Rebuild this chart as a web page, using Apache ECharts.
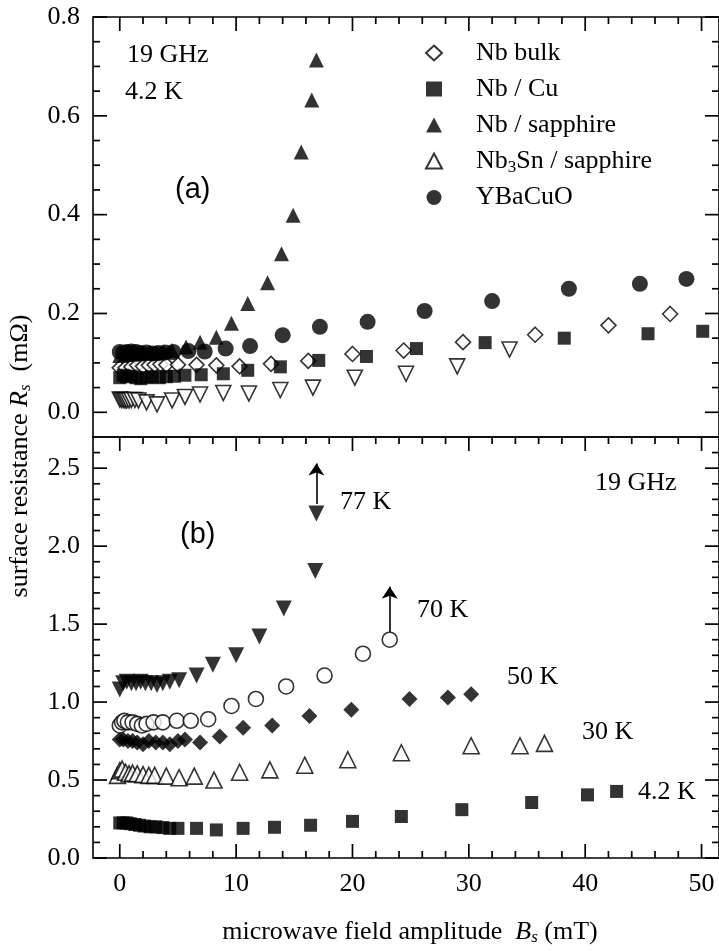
<!DOCTYPE html>
<html>
<head>
<meta charset="utf-8">
<script src="https://cdn.jsdelivr.net/npm/echarts@6/dist/echarts.min.js"></script>
<style>
  html, body { margin: 0; padding: 0; background: #fff; }
  #chart { width: 719px; height: 951px; }
</style>
</head>
<body>
<div id="chart"></div>
<script>
// ---- panel (a): 19 GHz, 4.2 K ----
var nbBulkB = [0, 0.5, 1.0, 1.5, 2.0, 2.5, 3.0, 3.5, 4.0, 5.0, 6.6, 8.3, 10.3, 13.0, 16.2, 20.0, 24.4, 29.5, 35.7, 42.0, 47.3];
var nbBulkR = [0.09, 0.09, 0.092, 0.095, 0.093, 0.095, 0.096, 0.097, 0.096, 0.096, 0.096, 0.095, 0.093, 0.098, 0.104, 0.118, 0.125, 0.142, 0.157, 0.176, 0.199];
var nbCuB = [0, 0.3, 0.6, 1.0, 1.4, 1.8, 2.3, 2.8, 3.4, 4.0, 4.7, 5.6, 7.0, 8.9, 11.0, 13.8, 17.1, 21.2, 25.5, 31.4, 38.2, 45.4, 50.1];
var nbCuR = [0.07, 0.075, 0.072, 0.073, 0.07, 0.068, 0.07, 0.072, 0.07, 0.072, 0.073, 0.075, 0.076, 0.078, 0.085, 0.092, 0.105, 0.113, 0.129, 0.141, 0.15, 0.159, 0.164];
var nbSapB = [0, 0.5, 1.0, 1.5, 2.0, 2.6, 3.2, 3.8, 4.5, 5.7, 6.9, 8.3, 9.6, 11.0, 12.7, 13.9, 14.9, 15.6, 16.5, 16.9];
var nbSapR = [0.115, 0.117, 0.118, 0.118, 0.12, 0.12, 0.12, 0.122, 0.125, 0.132, 0.142, 0.152, 0.18, 0.22, 0.262, 0.321, 0.399, 0.527, 0.632, 0.713];
var nb3SnB = [0, 0.15, 0.3, 0.45, 0.6, 0.8, 1.0, 1.3, 1.6, 2.3, 3.2, 4.5, 5.6, 6.9, 8.9, 11.1, 13.8, 16.6, 20.2, 24.6, 29.0, 33.5];
var nb3SnR = [0.026, 0.025, 0.025, 0.024, 0.024, 0.024, 0.025, 0.025, 0.024, 0.02, 0.016, 0.024, 0.031, 0.036, 0.039, 0.038, 0.045, 0.05, 0.07, 0.078, 0.093, 0.127];
var ybcoB = [0, 0.3, 0.6, 1.0, 1.4, 1.8, 2.3, 2.8, 3.3, 3.9, 4.6, 5.9, 7.3, 9.1, 11.2, 14.0, 17.2, 21.3, 26.2, 32.0, 38.6, 44.7, 48.7];
var ybcoR = [0.122, 0.12, 0.122, 0.123, 0.122, 0.12, 0.121, 0.119, 0.12, 0.121, 0.122, 0.124, 0.123, 0.129, 0.134, 0.156, 0.173, 0.183, 0.205, 0.225, 0.25, 0.26, 0.27];

// ---- panel (b): 19 GHz, several temperatures ----
var k4B = [0, 0.3, 0.6, 0.9, 1.3, 1.7, 2.1, 2.6, 3.1, 3.7, 4.3, 5.0, 6.6, 8.3, 10.6, 13.3, 16.4, 20.0, 24.2, 29.4, 35.4, 40.2, 42.7];
var k4R = [0.225, 0.225, 0.225, 0.22, 0.215, 0.21, 0.205, 0.2, 0.2, 0.195, 0.19, 0.19, 0.19, 0.18, 0.19, 0.197, 0.21, 0.235, 0.266, 0.31, 0.356, 0.405, 0.427];
var k30B = [-0.2, 0, 0.2, 0.5, 0.8, 1.1, 1.5, 2.0, 2.5, 3.0, 4.0, 5.1, 6.4, 8.1, 10.3, 12.9, 15.9, 19.6, 24.2, 30.2, 34.4, 36.5];
var k30R = [0.53, 0.56, 0.57, 0.55, 0.54, 0.545, 0.54, 0.535, 0.53, 0.53, 0.525, 0.515, 0.525, 0.50, 0.55, 0.565, 0.595, 0.63, 0.675, 0.72, 0.72, 0.735];
var k50B = [0, 0.3, 0.7, 1.1, 1.5, 2.0, 2.5, 3.1, 3.7, 4.3, 5.0, 5.6, 6.9, 8.6, 10.6, 13.1, 16.3, 19.9, 24.9, 28.2, 30.2];
var k50R = [0.76, 0.76, 0.75, 0.75, 0.74, 0.73, 0.75, 0.74, 0.74, 0.73, 0.75, 0.76, 0.74, 0.78, 0.835, 0.85, 0.91, 0.95, 1.02, 1.03, 1.05];
var k70B = [0, 0.2, 0.4, 0.7, 1.1, 1.5, 1.9, 2.3, 2.9, 3.7, 4.9, 6.1, 7.6, 9.6, 11.7, 14.3, 17.6, 20.9, 23.2];
var k70R = [0.85, 0.87, 0.88, 0.87, 0.87, 0.86, 0.85, 0.86, 0.87, 0.87, 0.88, 0.88, 0.89, 0.975, 1.02, 1.10, 1.17, 1.31, 1.40];
var k77B = [0, 0.3, 0.6, 1.0, 1.4, 1.8, 2.2, 2.7, 3.2, 3.7, 4.3, 5.1, 6.6, 8.0, 10.0, 12.0, 14.1, 16.8, 16.9];
var k77R = [1.08, 1.12, 1.13, 1.12, 1.12, 1.13, 1.12, 1.12, 1.11, 1.12, 1.13, 1.14, 1.17, 1.24, 1.30, 1.42, 1.60, 1.84, 2.21];

// ticks (major ones carry labels)
var xMajor = [0, 10, 20, 30, 40, 50];
var xMinor = [2, 4, 6, 8, 12, 14, 16, 18, 22, 24, 26, 28, 32, 34, 36, 38, 42, 44, 46, 48];
var yTopMajor = [0, 0.2, 0.4, 0.6, 0.8];
var yTopMinor = [0.05, 0.1, 0.15, 0.25, 0.3, 0.35, 0.45, 0.5, 0.55, 0.65, 0.7, 0.75];
var yBotMajor = [0, 0.5, 1.0, 1.5, 2.0, 2.5];
var yBotMinor = [0.1, 0.2, 0.3, 0.4, 0.6, 0.7, 0.8, 0.9, 1.1, 1.2, 1.3, 1.4, 1.6, 1.7, 1.8, 1.9, 2.1, 2.2, 2.3, 2.4, 2.6];

var FONT = 'Liberation Serif';
var L = 93, W = 626, T0 = 17, H0 = 420, T1 = 437, H1 = 421;
var xMin = -2.3, xMax = 51.5;
var yTop = [-0.05, 0.8];
var yBot = [0, 2.7];

function zip(xs, ys) {
  return xs.map(function (x, i) { return [x, ys[i]]; });
}

function axis(grid, pos, min, max, labels, digits) {
  return {
    type: 'value', gridIndex: grid, position: pos, min: min, max: max,
    axisLine: { show: false },
    axisTick: { show: false },
    axisLabel: {
      show: !!labels, customValues: labels || [], margin: 13,
      fontFamily: FONT, fontSize: 26, color: '#000',
      formatter: function (v) { return v.toFixed(digits); }
    },
    splitLine: { show: false }
  };
}

// tick marks: same linear mapping as the value axes above
function xPx(v) { return L + (v - xMin) * W / (xMax - xMin); }
function yPx(v, yr, top, h) { return top + (yr[1] - v) * h / (yr[1] - yr[0]); }
function tick(x1, y1, x2, y2) {
  return { type: 'line', silent: true, z: 100, shape: { x1: x1, y1: y1, x2: x2, y2: y2 }, style: { stroke: '#000', lineWidth: 1.7 } };
}
function xTicks(vals, edgeY, len) {
  return vals.map(function (v) { return tick(xPx(v), edgeY, xPx(v), edgeY + len); });
}
function yTicks(vals, len, yr, top, h) {
  var out = [];
  vals.forEach(function (v) {
    var y = yPx(v, yr, top, h);
    out.push(tick(L, y, L + len, y));
    out.push(tick(L + W, y, L + W - len, y));
  });
  return out;
}
var tickEls = [].concat(
  xTicks(xMajor, T0, 14), xTicks(xMinor, T0, 7),
  yTicks(yTopMajor, 14, yTop, T0, H0), yTicks(yTopMinor, 7, yTop, T0, H0),
  xTicks(xMajor, T1, 14), xTicks(xMinor, T1, 7),
  xTicks(xMajor, T1 + H1, -14), xTicks(xMinor, T1 + H1, -7),
  yTicks(yBotMajor, 14, yBot, T1, H1), yTicks(yBotMinor, 7, yBot, T1, H1)
);

var hollow = { color: '#fff', borderColor: '#000', borderWidth: 1.6 };
var solid = { color: '#000' };

function scatter(name, grid, data, symbol, size, style, rotate) {
  return {
    name: name, type: 'scatter', data: data,
    xAxisIndex: grid, yAxisIndex: grid,
    symbol: symbol, symbolSize: size, symbolRotate: rotate || 0,
    itemStyle: style, emphasis: { disabled: true }
  };
}

function upArrow(x, y0, y1) {
  return {
    silent: true, symbol: ['none', 'arrow'], symbolSize: 12,
    lineStyle: { color: '#000', width: 1.6, type: 'solid' },
    itemStyle: { color: '#000' },
    label: { show: false },
    data: [[{ coord: [x, y0] }, { coord: [x, y1] }]]
  };
}

var s77 = scatter('77 K', 1, zip(k77B, k77R), 'triangle', 16, solid, 180);
s77.markLine = upArrow(16.9, 2.27, 2.53);
var s70 = scatter('70 K', 1, zip(k70B, k70R), 'circle', 15, hollow);
s70.markLine = upArrow(23.2, 1.45, 1.74);

var series = [
  scatter('Nb bulk', 0, zip(nbBulkB, nbBulkR), 'diamond', 15, hollow),
  scatter('Nb / Cu', 0, zip(nbCuB, nbCuR), 'rect', 13, solid),
  scatter('Nb / sapphire', 0, zip(nbSapB, nbSapR), 'triangle', 15, solid),
  scatter('Nb3Sn / sapphire', 0, zip(nb3SnB, nb3SnR), 'triangle', 15, hollow, 180),
  scatter('YBaCuO', 0, zip(ybcoB, ybcoR), 'circle', 16, solid),
  scatter('4.2 K', 1, zip(k4B, k4R), 'rect', 13, solid),
  scatter('30 K', 1, zip(k30B, k30R), 'triangle', 16, hollow),
  scatter('50 K', 1, zip(k50B, k50R), 'diamond', 16, solid),
  s70,
  s77
];

function txt(t, x, y, font) {
  return {
    type: 'text', x: x, y: y, silent: true,
    style: { text: t, fill: '#000', font: font || ('26px "' + FONT + '"'), textAlign: 'left', textVerticalAlign: 'middle' }
  };
}
var sans = '29px "Liberation Sans"';
var richTitle = {
  a: { fontFamily: FONT, fontSize: 26, color: '#000' },
  i: { fontFamily: FONT, fontSize: 26, fontStyle: 'italic', color: '#000' },
  s: { fontFamily: FONT, fontSize: 17, fontStyle: 'italic', color: '#000', padding: [12, 0, 0, 0] }
};
var texts = [
  txt('19 GHz', 127, 55),
  txt('4.2 K', 125, 92),
  txt('(a)', 175, 190, sans),
  txt('(b)', 180, 535, sans),
  txt('19 GHz', 595, 483),
  txt('77 K', 340, 502),
  txt('70 K', 417, 610),
  txt('50 K', 507, 677),
  txt('30 K', 582, 732),
  txt('4.2 K', 638, 792),
  {
    type: 'text', x: 20, y: 456, rotation: Math.PI / 2, silent: true,
    style: { text: '{a|surface resistance }{i|R}{s|s}{a|  (mΩ)}', rich: richTitle, textAlign: 'center', textVerticalAlign: 'middle' }
  },
  {
    type: 'text', x: 410, y: 932, silent: true,
    style: { text: '{a|microwave field amplitude  }{i|B}{s|s}{a| (mT)}', rich: richTitle, textAlign: 'center', textVerticalAlign: 'middle' }
  }
];

var chart = echarts.init(document.getElementById('chart'));
chart.setOption({
  animation: false,
  grid: [
    { left: L, top: T0, width: W, height: H0, show: true, borderColor: '#000', borderWidth: 1.6 },
    { left: L, top: T1, width: W, height: H1, show: true, borderColor: '#000', borderWidth: 1.6 }
  ],
  xAxis: [
    axis(0, 'bottom', xMin, xMax, null, 0),
    axis(1, 'bottom', xMin, xMax, xMajor, 0)
  ],
  yAxis: [
    axis(0, 'left', yTop[0], yTop[1], yTopMajor, 1),
    axis(1, 'left', yBot[0], yBot[1], yBotMajor, 1)
  ],
  legend: {
    data: ['Nb bulk', 'Nb / Cu', 'Nb / sapphire', 'Nb3Sn / sapphire', 'YBaCuO'],
    orient: 'vertical', left: 420, top: 33,
    itemWidth: 16, itemHeight: 15, itemGap: 6,
    selectedMode: false,
    formatter: function (name) {
      return name === 'Nb3Sn / sapphire' ? 'Nb{sub|3}Sn / sapphire' : name;
    },
    textStyle: {
      fontFamily: FONT, fontSize: 26, color: '#000', lineHeight: 30, padding: [0, 0, 0, 29],
      rich: { sub: { fontFamily: FONT, fontSize: 17, color: '#000', padding: [14, 0, 0, 0] } }
    }
  },
  graphic: tickEls.concat(texts),
  series: series
});
</script>
</body>
</html>
